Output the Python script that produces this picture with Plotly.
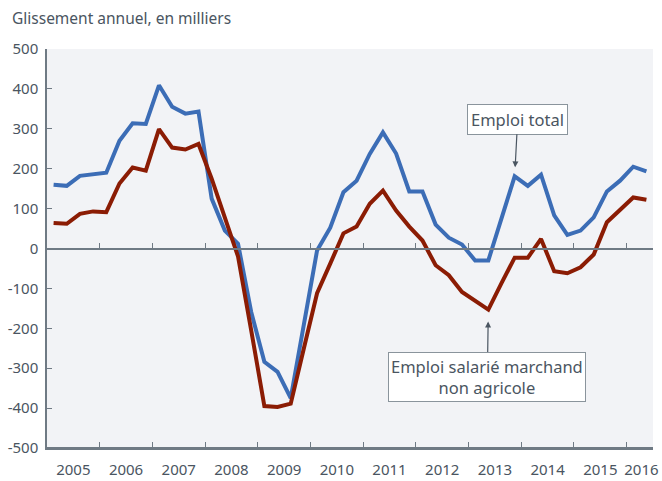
import plotly.graph_objects as go

# Quarterly data, 2005 Q1 to 2016 Q2 (annual change, thousands)
years = list(range(2005, 2017))
quarters = [y + (q - 0.5) / 4 for y in range(2005, 2017) for q in range(1, 5)][:46]

emploi_total = [160, 157, 182, 187, 190, 270, 314, 312,
                409, 355, 338, 343, 125, 45, 12, -159,
                -284, -309, -375, -190, -5, 52, 141, 170,
                237, 291, 238, 143, 143, 60, 27, 10,
                -30, -30, 75, 181, 157, 185, 83, 34,
                45, 78, 143, 170, 205, 193]

emploi_marchand = [64, 62, 87, 93, 91, 163, 203, 195,
                   299, 253, 248, 262, 175, 75, -20, -205,
                   -395, -397, -389, -250, -112, -38, 38, 55,
                   112, 145, 95, 55, 20, -42, -67, -109,
                   -132, -153, -87, -23, -23, 24, -57, -62,
                   -47, -15, 66, 97, 128, 122]

year_labels = [str(y) for y in years]
label_pos = [y + 0.5 for y in years[:-1]] + [2016.28]

y_vals = list(range(-500, 501, 100))
y_labels = [str(v) for v in y_vals]

axis_grey = '#6f7a84'
text_grey = '#4a5561'

fig = go.Figure()

fig.add_trace(go.Scatter(
    x=quarters, y=emploi_total, mode='lines', name='Emploi total',
    line=dict(color='#3c6db6', width=4)
))

fig.add_trace(go.Scatter(
    x=quarters, y=emploi_marchand, mode='lines', name='Emploi salarié marchand non agricole',
    line=dict(color='#8b1c04', width=4)
))

# invisible helpers so the zero-line axis and the bottom tick axis get drawn
for ax_name in ['x2', 'x3']:
    fig.add_trace(go.Scatter(
        x=[2005, 2016.5], y=[0, 0], xaxis=ax_name, mode='lines',
        line=dict(color='rgba(0,0,0,0)'), hoverinfo='skip', showlegend=False
    ))

year_tick_axis = dict(
    range=[2005, 2016.5], overlaying='x', anchor='free', automargin=False,
    showline=True, linecolor=axis_grey, linewidth=1.5,
    showticklabels=False, showgrid=False, zeroline=False,
    tickvals=years[1:], ticks='inside', ticklen=5, tickcolor=axis_grey, tickwidth=1.2,
)

fig.update_layout(
    width=662, height=481,
    margin=dict(l=47, r=9, t=49, b=33),
    paper_bgcolor='white',
    plot_bgcolor='#f2f3f6',
    showlegend=False,
    font=dict(family='Noto Sans', size=15, color=text_grey),
    title=dict(
        text='Glissement annuel, en milliers',
        xref='container', yref='container', x=12 / 662, xanchor='left',
        y=1 - 19 / 481, yanchor='middle',
        font=dict(size=15.5, color=text_grey)
    ),
    xaxis=dict(
        range=[2005, 2016.5], automargin=False,
        tickvals=label_pos, ticktext=year_labels, ticks='',
        showgrid=False, zeroline=False,
        showline=True, linecolor=axis_grey, linewidth=1.5,
        ticklabelstandoff=7,
    ),
    xaxis2=dict(year_tick_axis, position=0.5),
    xaxis3=dict(year_tick_axis, position=0),
    yaxis=dict(
        range=[-500, 500], automargin=False,
        tickvals=y_vals, ticktext=y_labels,
        showgrid=False, zeroline=False,
        showline=True, linecolor=axis_grey, linewidth=1.5,
        ticks='inside', ticklen=5, tickcolor=axis_grey,
        ticklabelstandoff=4,
    ),
)

fig.add_annotation(
    text='Emploi total', x=quarters[35], y=emploi_total[35],
    ax=3, ay=-57, standoff=9,
    arrowhead=2, arrowsize=1, arrowwidth=1.2, arrowcolor=text_grey,
    bgcolor='white', bordercolor='#8a949c', borderwidth=1, borderpad=3,
    font=dict(size=16.5, color=text_grey)
)

fig.add_annotation(
    text='Emploi salarié marchand<br>non agricole', x=quarters[33], y=emploi_marchand[33],
    ax=-1, ay=67, standoff=12,
    arrowhead=2, arrowsize=1, arrowwidth=1.2, arrowcolor=text_grey,
    bgcolor='white', bordercolor='#8a949c', borderwidth=1, borderpad=2,
    font=dict(size=16.5, color=text_grey)
)

# the page's default body margin would shift the chart by 8px
fig.write_html('out.html', config={'displayModeBar': False},
               post_script="document.body.style.margin='0';")
